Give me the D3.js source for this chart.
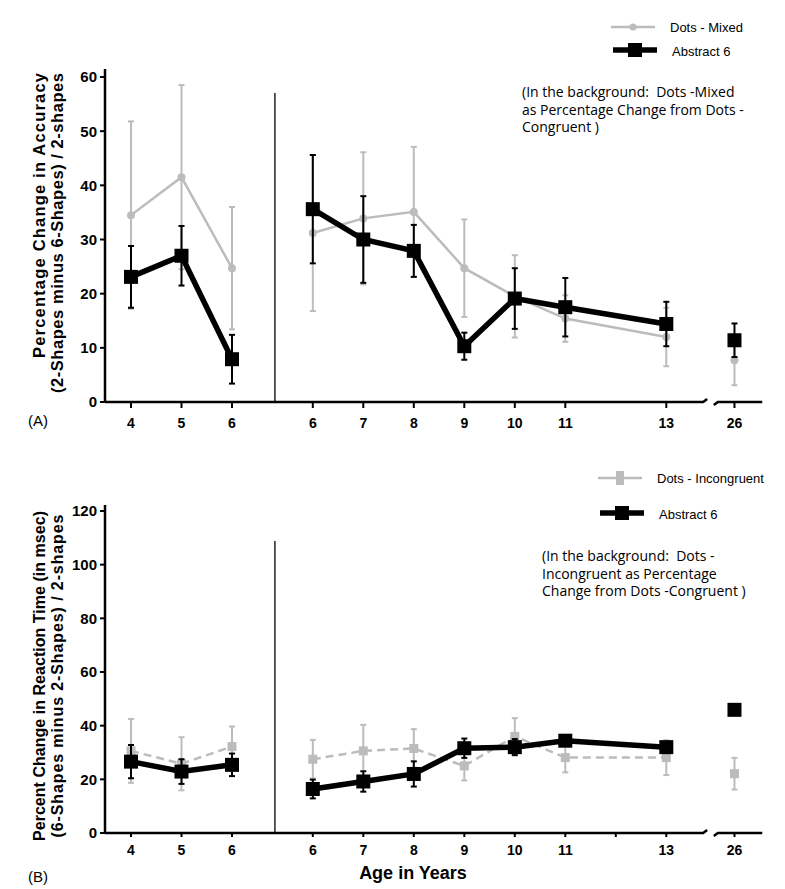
<!DOCTYPE html>
<html><head><meta charset="utf-8">
<script src="https://cdn.jsdelivr.net/npm/d3@7"></script>
<style>body{margin:0;background:#fff}svg{display:block}text{white-space:pre}</style>
</head><body>
<svg id="c" width="785" height="889"></svg>
<script>
// ---- data ----
// each point: group ("L" = left block, "R" = right block, "A" = adult)
const groups = ["L","L","L","R","R","R","R","R","R","R","A"];
const ages   = [4,5,6,6,7,8,9,10,11,13,26];
const tickLabels = ["4","5","6","6","7","8","9","10","11","13","26"];

// Panel A: accuracy
const accAbstract    = [23.1,27.0,7.9,35.6,30.0,27.9,10.3,19.1,17.5,14.4,11.4];
const accAbstractErr = [5.7,5.5,4.5,10.0,8.0,4.8,2.5,5.6,5.4,4.1,3.1];
const accDots        = [34.5,41.5,24.7,31.2,33.9,35.1,24.7,19.5,15.4,12.0,7.7];
const accDotsErr     = [17.3,17.0,11.3,14.4,12.2,12.0,9.0,7.6,4.3,5.4,4.6];

// Panel B: reaction time
const rtAbstract    = [26.6,22.9,25.4,16.4,19.2,22.0,31.6,32.0,34.4,32.0,45.9];
const rtAbstractErr = [6.2,4.6,4.2,3.5,3.8,4.7,3.6,3.0,1.5,1.5,0];
const rtDots        = [30.6,25.8,32.2,27.5,30.6,31.5,25.0,36.0,28.1,28.1,22.1];
const rtDotsErr     = [11.9,9.9,7.5,7.2,9.7,7.2,5.4,6.8,5.5,6.5,5.9];

const yTicksA = [0,10,20,30,40,50,60];
const yTicksB = [0,20,40,60,80,100,120];

// ---- layout ----
const svg = d3.select("#c");
const GRAY = "#bcbcbc";
const slotOf = (g,a) => g==="L" ? a-4 : g==="R" ? a-6+3.6 : 11.95;
const x = d3.scaleLinear().domain([0,12]).range([131,737]);
const pts = ages.map((a,i)=>({g:groups[i],a,slot:slotOf(groups[i],a),label:tickLabels[i]}));

function panel(cfg){
  const y = d3.scaleLinear().domain(cfg.domain).range([cfg.y0,cfg.y1]);
  const g = svg.append("g");
  const x0 = 105;
  // y axis
  g.append("line").attr("x1",x0).attr("x2",x0).attr("y1",y(0)).attr("y2",cfg.axisTop)
    .attr("stroke","#000").attr("stroke-width",2.5);
  cfg.yTicks.forEach(t=>{
    g.append("line").attr("x1",x0-5).attr("x2",x0).attr("y1",y(t)).attr("y2",y(t)).attr("stroke","#000").attr("stroke-width",2);
    g.append("text").attr("x",x0-8).attr("y",y(t)).attr("dy","0.36em").attr("text-anchor","end")
      .attr("font-family","Liberation Sans, Arial, sans-serif").attr("font-weight","bold").attr("font-size",15).text(t);
  });
  // x axis with break
  const yb = y(0);
  g.append("path").attr("d",`M${x0},${yb}H${x(11.33)}l4,-3`).attr("fill","none").attr("stroke","#000").attr("stroke-width",2.5);
  g.append("path").attr("d",`M${x(11.62)-4},${yb+3}l4,-3H${x(12.5)}`).attr("fill","none").attr("stroke","#000").attr("stroke-width",2.5);
  pts.forEach(p=>{
    g.append("line").attr("x1",x(p.slot)).attr("x2",x(p.slot)).attr("y1",yb).attr("y2",yb+cfg.tickLen).attr("stroke","#000").attr("stroke-width",2);
    g.append("text").attr("x",x(p.slot)).attr("y",cfg.labelY).attr("text-anchor","middle")
      .attr("font-family","Liberation Sans, Arial, sans-serif").attr("font-weight","bold").attr("font-size",14).text(p.label);
  });
  if(cfg.minor){
    g.append("line").attr("x1",x(slotOf("R",12))).attr("x2",x(slotOf("R",12))).attr("y1",yb).attr("y2",yb+4).attr("stroke","#000").attr("stroke-width",2);
  }
  // separator
  g.append("line").attr("x1",x(2.85)).attr("x2",x(2.85)).attr("y1",yb).attr("y2",cfg.sepTop).attr("stroke","#000").attr("stroke-width",1.3);

  // series
  function series(vals, errs, color, lw, marker, msize, dash, errW){
    const d = pts.map((p,i)=>({...p,v:vals[i],e:errs[i]}));
    const line = d3.line().x(p=>x(p.slot)).y(p=>y(p.v));
    ["L","R"].forEach(gr=>{
      g.append("path").datum(d.filter(p=>p.g===gr)).attr("d",line).attr("fill","none")
        .attr("stroke",color).attr("stroke-width",lw).attr("stroke-dasharray",dash||null).attr("stroke-linejoin","miter");
    });
    d.forEach(p=>{
      if(p.e>0){
        const cx=x(p.slot);
        g.append("line").attr("x1",cx).attr("x2",cx).attr("y1",y(p.v-p.e)).attr("y2",y(p.v+p.e)).attr("stroke",color).attr("stroke-width",errW);
        [p.v-p.e,p.v+p.e].forEach(vv=>g.append("line").attr("x1",cx-3).attr("x2",cx+3).attr("y1",y(vv)).attr("y2",y(vv)).attr("stroke",color).attr("stroke-width",errW));
      }
    });
    d.forEach(p=>{
      if(marker==="circle") g.append("circle").attr("cx",x(p.slot)).attr("cy",y(p.v)).attr("r",msize/2).attr("fill",color);
      else g.append("rect").attr("x",x(p.slot)-msize/2).attr("y",y(p.v)-msize/2).attr("width",msize).attr("height",msize).attr("fill",color);
    });
  }
  series(cfg.dots, cfg.dotsErr, GRAY, 2.5, cfg.dotsMarker, cfg.dotsSize, cfg.dash, 2);
  series(cfg.abs, cfg.absErr, "#000", 5.5, "square", 14, null, 2);

  // y title
  const tf = "Liberation Sans, Arial, sans-serif";
  cfg.title.forEach((t,i)=>{
    g.append("text").attr("transform",`translate(${cfg.titleX[i]},${cfg.titleY}) rotate(-90)`)
      .attr("text-anchor",cfg.titleAnchor).attr("font-family",tf).attr("font-weight","bold").attr("font-size",cfg.titleSize)
      .attr("textLength",cfg.titleLen[i]).attr("lengthAdjust","spacing").text(t);
  });
  // panel label
  g.append("text").attr("x",28).attr("y",cfg.panelLabelY).attr("font-family",tf).attr("font-size",15).text(cfg.panelLabel);

  // legend
  const lg = cfg.legend;
  g.append("line").attr("x1",lg.x).attr("x2",lg.x+44).attr("y1",lg.y1).attr("y2",lg.y1).attr("stroke",GRAY).attr("stroke-width",2.5);
  if(cfg.dotsMarker==="circle") g.append("circle").attr("cx",lg.x+22).attr("cy",lg.y1).attr("r",3.5).attr("fill",GRAY);
  else g.append("rect").attr("x",lg.x+18).attr("y",lg.y1-7).attr("width",8).attr("height",14).attr("fill",GRAY);
  g.append("text").attr("x",lg.tx).attr("y",lg.y1+5).attr("font-family",tf).attr("font-size",13).text(lg.t1);
  g.append("line").attr("x1",lg.x+2).attr("x2",lg.x+46).attr("y1",lg.y2).attr("y2",lg.y2).attr("stroke","#000").attr("stroke-width",5.5);
  g.append("rect").attr("x",lg.x+24-7).attr("y",lg.y2-7).attr("width",14).attr("height",14).attr("fill","#000");
  g.append("text").attr("x",lg.tx+2).attr("y",lg.y2+6).attr("font-family",tf).attr("font-size",13).text("Abstract 6");

  // annotation
  cfg.note.forEach((t,i)=>{
    g.append("text").attr("x",cfg.noteX).attr("y",cfg.noteY+i*17.5).attr("font-family","Open Sans, sans-serif")
      .attr("font-size",14).text(t);
  });
}

panel({domain:[0,60], y0:402, y1:77, axisTop:69, yTicks:yTicksA, tickLen:6, labelY:428, sepTop:93,
  dots:accDots, dotsErr:accDotsErr, abs:accAbstract, absErr:accAbstractErr, dotsMarker:"circle", dotsSize:8, dash:null,
  title:["Percentage Change in Accuracy","(2-Shapes minus 6-Shapes) / 2-shapes"], titleX:[45,63], titleY:73, titleAnchor:"end", titleSize:16.5, titleLen:[285,320],
  panelLabel:"(A)", panelLabelY:426,
  legend:{x:611, y1:27, y2:50, tx:670, t1:"Dots - Mixed"},
  note:["(In the background:  Dots -Mixed","as Percentage Change from Dots -","Congruent )"], noteX:522, noteY:97, minor:false});

panel({domain:[0,120], y0:833, y1:511, axisTop:505, yTicks:yTicksB, tickLen:4, labelY:855, sepTop:541,
  dots:rtDots, dotsErr:rtDotsErr, abs:rtAbstract, absErr:rtAbstractErr, dotsMarker:"square", dotsSize:9, dash:"8,5",
  title:["Percent Change in Reaction Time (in msec)","(6-Shapes minus 2-Shapes) / 2-shapes"], titleX:[45,63], titleY:676, titleAnchor:"middle", titleSize:16, titleLen:[330,323],
  panelLabel:"(B)", panelLabelY:882,
  legend:{x:598, y1:478, y2:513, tx:657, t1:"Dots - Incongruent"},
  note:["(In the background:  Dots -","Incongruent as Percentage","Change from Dots -Congruent )"], noteX:542, noteY:561, minor:true});

svg.append("text").attr("x",413).attr("y",879).attr("text-anchor","middle").attr("font-family","Liberation Sans, Arial, sans-serif")
  .attr("font-weight","bold").attr("font-size",18).text("Age in Years");
</script>
</body></html>
